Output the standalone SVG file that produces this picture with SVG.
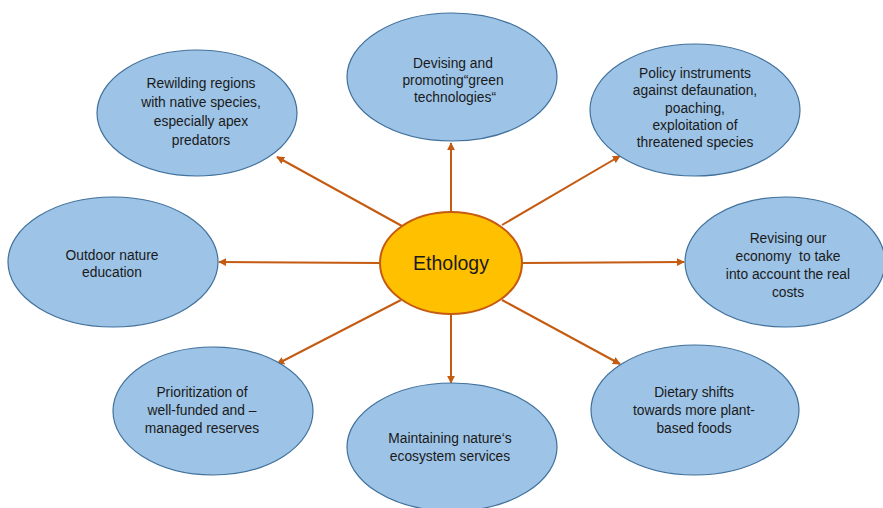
<svg xmlns="http://www.w3.org/2000/svg" width="883" height="508" viewBox="0 0 883 508">
<style>
.n{fill:#9DC3E6;stroke:#41719C;stroke-width:1.2}
.c{fill:#FFC000;stroke:#C55A11;stroke-width:2}
.t{font-family:"Liberation Sans",Arial,sans-serif;font-size:13.8px;fill:#1a1a1a;text-anchor:middle;white-space:pre}
.tc{font-family:"Liberation Sans",Arial,sans-serif;font-size:19.5px;fill:#1a1a1a;text-anchor:middle}
.a{stroke:#C55A11;stroke-width:2;fill:none;marker-end:url(#ah)}
</style>
<defs>
<marker id="ah" viewBox="0 0 10 10" refX="9" refY="5" markerWidth="4" markerHeight="4" orient="auto" markerUnits="strokeWidth">
<path d="M0,0 L10,5 L0,10 z" fill="#C55A11"/>
</marker>
</defs>
<rect width="883" height="508" fill="#ffffff"/>
<g id="connectors">
<line class="a" x1="451" y1="212" x2="451" y2="143"/>
<line class="a" x1="402" y1="226" x2="277" y2="157"/>
<line class="a" x1="502" y1="225" x2="620" y2="156"/>
<line class="a" x1="380" y1="263" x2="219" y2="262"/>
<line class="a" x1="523" y1="263" x2="684" y2="262"/>
<line class="a" x1="401" y1="300" x2="277" y2="364"/>
<line class="a" x1="451" y1="315" x2="451" y2="383"/>
<line class="a" x1="502" y1="300" x2="620" y2="364"/>
</g>
<g id="center">
<ellipse class="c" cx="451" cy="263" rx="71" ry="51"/>
<text class="tc" x="451" y="270">Ethology</text>
</g>
<g id="devising">
<ellipse class="n" cx="452" cy="77" rx="105" ry="64"/>
<text class="t" x="453" y="68">Devising and</text>
<text class="t" x="453" y="85">promoting“green</text>
<text class="t" x="455" y="102">technologies“</text>
</g>
<g id="rewilding">
<ellipse class="n" cx="197" cy="113" rx="100" ry="63"/>
<text class="t" x="201" y="88">Rewilding regions</text>
<text class="t" x="201" y="107">with native species,</text>
<text class="t" x="201" y="126">especially apex</text>
<text class="t" x="201" y="145">predators</text>
</g>
<g id="policy">
<ellipse class="n" cx="695" cy="110" rx="105" ry="66"/>
<text class="t" x="695" y="78">Policy instruments</text>
<text class="t" x="695" y="95">against defaunation,</text>
<text class="t" x="695" y="113">poaching,</text>
<text class="t" x="695" y="130">exploitation of</text>
<text class="t" x="695" y="147">threatened species</text>
</g>
<g id="outdoor">
<ellipse class="n" cx="113" cy="262" rx="105" ry="65"/>
<text class="t" x="112" y="260">Outdoor nature</text>
<text class="t" x="112" y="277">education</text>
</g>
<g id="revising">
<ellipse class="n" cx="785" cy="262" rx="100" ry="65"/>
<text class="t" x="788" y="243">Revising our</text>
<text class="t" x="788" y="261" xml:space="preserve">economy  to take</text>
<text class="t" x="788" y="279">into account the real</text>
<text class="t" x="788" y="297">costs</text>
</g>
<g id="prioritization">
<ellipse class="n" cx="213" cy="411" rx="100" ry="64"/>
<text class="t" x="202" y="397">Prioritization of</text>
<text class="t" x="202" y="415">well-funded and –</text>
<text class="t" x="202" y="433">managed reserves</text>
</g>
<g id="maintaining">
<ellipse class="n" cx="452" cy="447" rx="105" ry="64"/>
<text class="t" x="450" y="443">Maintaining nature‘s</text>
<text class="t" x="450" y="461">ecosystem services</text>
</g>
<g id="dietary">
<ellipse class="n" cx="695" cy="410" rx="104" ry="65"/>
<text class="t" x="694" y="397">Dietary shifts</text>
<text class="t" x="694" y="415">towards more plant-</text>
<text class="t" x="694" y="433">based foods</text>
</g>
</svg>
